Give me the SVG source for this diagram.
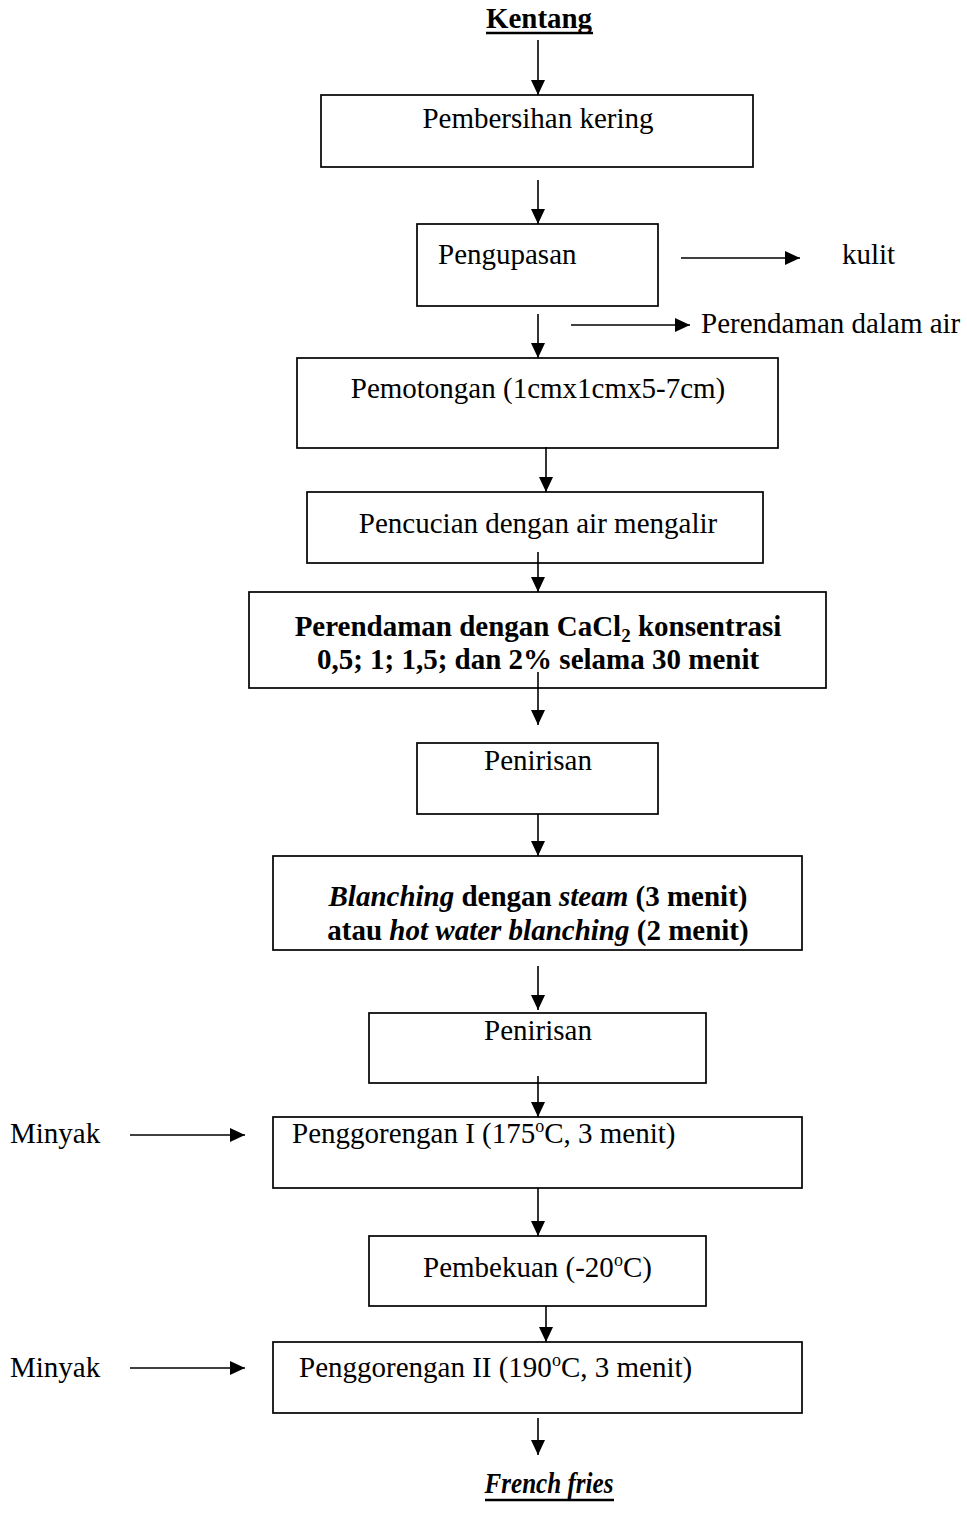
<svg xmlns="http://www.w3.org/2000/svg" width="967" height="1520" viewBox="0 0 967 1520">
<style>
.t{font-family:"Liberation Serif","Times New Roman",serif;font-size:29px;fill:#000}
.b{font-weight:bold}
.i{font-style:italic}
.box{fill:#fff;stroke:#000;stroke-width:1.7}
.c line{stroke:#000;stroke-width:1.6}
</style>
<defs>
<marker id="ah" markerUnits="userSpaceOnUse" markerWidth="18" markerHeight="18" viewBox="0 0 18 18" refX="16" refY="9" orient="auto">
<path d="M1,2 L16,9 L1,16 Z" fill="#000"/>
</marker>
</defs>
<rect width="967" height="1520" fill="#fff"/>

<g id="kentang">
<text class="t b" x="539" y="28" text-anchor="middle" font-size="28" textLength="106" lengthAdjust="spacingAndGlyphs">Kentang</text>
<line x1="486" y1="33" x2="593" y2="33" stroke="#000" stroke-width="2.5"/>
</g>

<g id="n1"><rect class="box" x="321" y="95" width="432" height="72"/>
<text class="t" x="538" y="128" text-anchor="middle">Pembersihan kering</text></g>

<g id="n2"><rect class="box" x="417" y="224" width="241" height="82"/>
<text class="t" x="438" y="264">Pengupasan</text></g>

<g id="kulit"><text class="t" x="842" y="264">kulit</text></g>
<g id="perendaman-air"><text class="t" x="701" y="333">Perendaman dalam air</text></g>

<g id="n3"><rect class="box" x="297" y="358" width="481" height="90"/>
<text class="t" x="538" y="398" text-anchor="middle">Pemotongan (1cmx1cmx5-7cm)</text></g>

<g id="n4"><rect class="box" x="307" y="492" width="456" height="71"/>
<text class="t" x="538" y="533" text-anchor="middle">Pencucian dengan air mengalir</text></g>

<g id="n5"><rect class="box" x="249" y="592" width="577" height="96"/>
<text class="t b" x="538" y="636" text-anchor="middle">Perendaman dengan CaCl<tspan font-size="19" dy="6">2</tspan><tspan dy="-6"> konsentrasi</tspan></text>
<text class="t b" x="538" y="669" text-anchor="middle">0,5; 1; 1,5; dan 2% selama 30 menit</text></g>

<g id="n6"><rect class="box" x="417" y="743" width="241" height="71"/>
<text class="t" x="538" y="770" text-anchor="middle">Penirisan</text></g>

<g id="n7"><rect class="box" x="273" y="856" width="529" height="94"/>
<text class="t b" x="538" y="906" text-anchor="middle"><tspan class="i">Blanching</tspan> dengan <tspan class="i">steam</tspan> (3 menit)</text>
<text class="t b" x="538" y="940" text-anchor="middle">atau <tspan class="i">hot water blanching</tspan> (2 menit)</text></g>

<g id="n8"><rect class="box" x="369" y="1013" width="337" height="70"/>
<text class="t" x="538" y="1040" text-anchor="middle">Penirisan</text></g>

<g id="n9"><rect class="box" x="273" y="1117" width="529" height="71"/>
<text class="t" x="292" y="1143">Penggorengan I (175<tspan font-size="18" dy="-11">o</tspan><tspan dy="11">C, 3 menit)</tspan></text></g>

<g id="minyak1"><text class="t" x="10" y="1143">Minyak</text></g>

<g id="n10"><rect class="box" x="369" y="1236" width="337" height="70"/>
<text class="t" x="423" y="1277">Pembekuan (-20<tspan font-size="18" dy="-11">o</tspan><tspan dy="11">C)</tspan></text></g>

<g id="n11"><rect class="box" x="273" y="1342" width="529" height="71"/>
<text class="t" x="299" y="1377">Penggorengan II (190<tspan font-size="18" dy="-11">o</tspan><tspan dy="11">C, 3 menit)</tspan></text></g>

<g id="minyak2"><text class="t" x="10" y="1377">Minyak</text></g>

<g id="french-fries">
<text class="t b i" x="549" y="1493" text-anchor="middle" font-size="28" textLength="129" lengthAdjust="spacingAndGlyphs">French fries</text>
<line x1="485" y1="1500" x2="614" y2="1500" stroke="#000" stroke-width="2.5"/>
</g>

<g id="connectors" class="c">
<line x1="538" y1="40" x2="538" y2="95" marker-end="url(#ah)"/>
<line x1="538" y1="180" x2="538" y2="224" marker-end="url(#ah)"/>
<line x1="681" y1="258" x2="800" y2="258" marker-end="url(#ah)"/>
<line x1="538" y1="314" x2="538" y2="358" marker-end="url(#ah)"/>
<line x1="571" y1="325" x2="690" y2="325" marker-end="url(#ah)"/>
<line x1="546" y1="447" x2="546" y2="492" marker-end="url(#ah)"/>
<line x1="538" y1="552" x2="538" y2="592" marker-end="url(#ah)"/>
<line x1="538" y1="672" x2="538" y2="725" marker-end="url(#ah)"/>
<line x1="538" y1="814" x2="538" y2="856" marker-end="url(#ah)"/>
<line x1="538" y1="966" x2="538" y2="1010" marker-end="url(#ah)"/>
<line x1="538" y1="1076" x2="538" y2="1117" marker-end="url(#ah)"/>
<line x1="130" y1="1135" x2="245" y2="1135" marker-end="url(#ah)"/>
<line x1="538" y1="1188" x2="538" y2="1236" marker-end="url(#ah)"/>
<line x1="546" y1="1306" x2="546" y2="1342" marker-end="url(#ah)"/>
<line x1="130" y1="1368" x2="245" y2="1368" marker-end="url(#ah)"/>
<line x1="538" y1="1418" x2="538" y2="1455" marker-end="url(#ah)"/>
</g>
</svg>
